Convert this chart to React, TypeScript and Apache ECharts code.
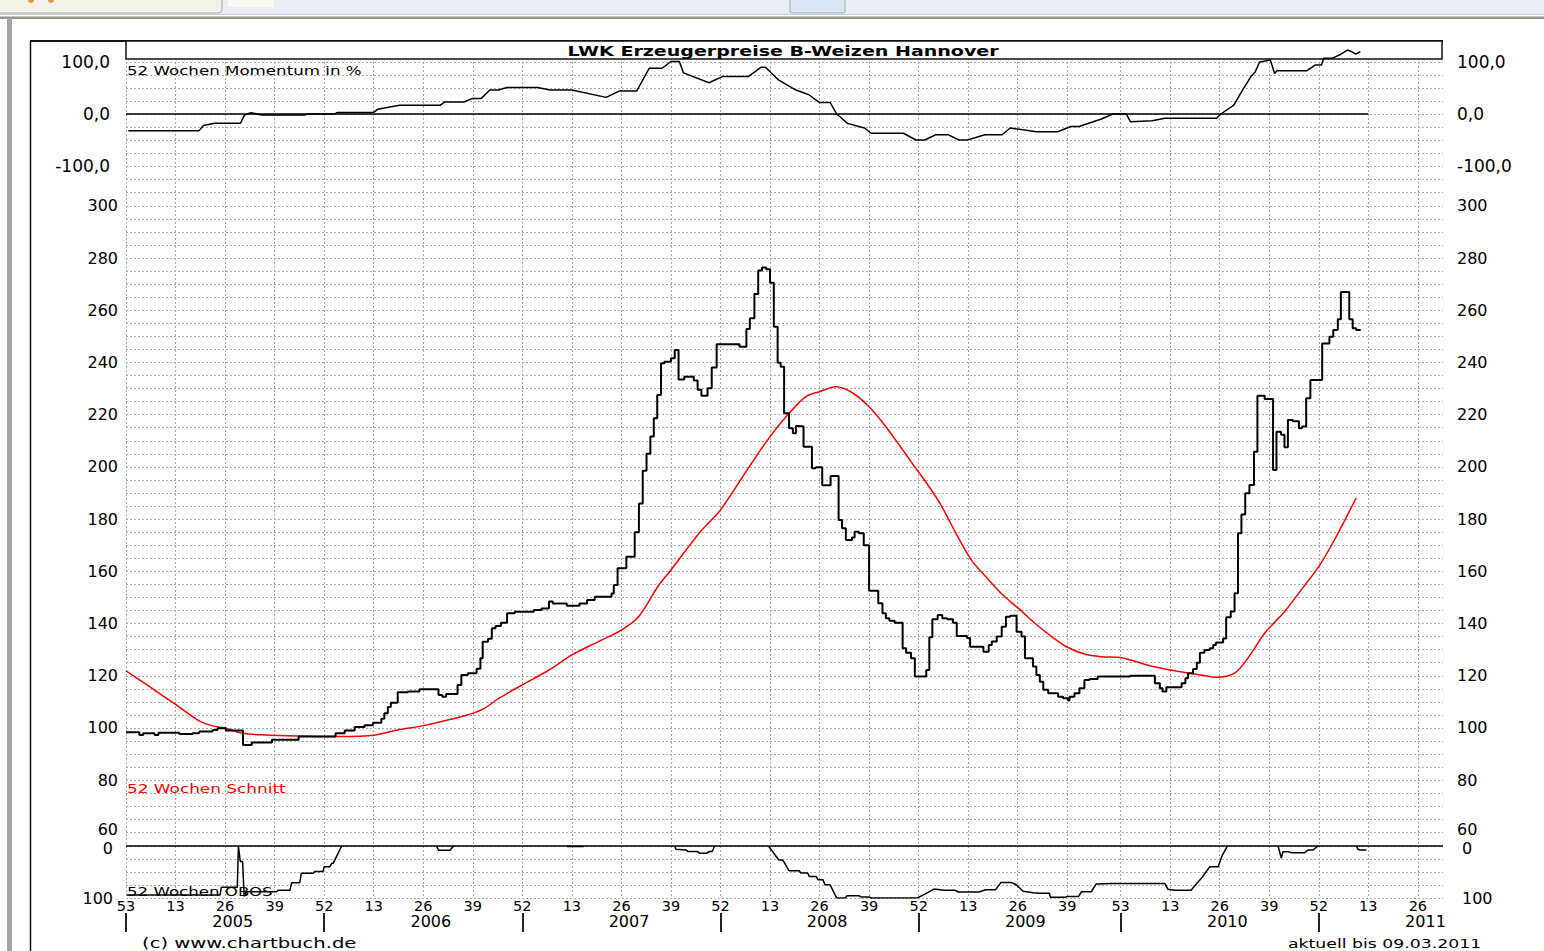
import React, { useEffect, useRef } from "react";
import * as echarts from "echarts";

// ---- axis ticks / labels ----
const X_MAX = 345.6; // weeks shown (0 = week 53 of 2004)
const weekTickValues = [0, 13, 26, 39, 52, 65, 78, 91, 104, 117, 130, 143, 156, 169, 182, 195, 208, 221, 234, 247, 261, 274, 287, 300, 313, 326, 339];
const weekTickLabels = ["53", "13", "26", "39", "52", "13", "26", "39", "52", "13", "26", "39", "52", "13", "26", "39", "52", "13", "26", "39", "53", "13", "26", "39", "52", "13", "26"];
const yearBoundaryWeeks = [0, 52, 104, 156, 208, 261, 313];
const yearLabelWeeks = [28, 80, 132, 184, 236, 289, 341];
const yearLabels = ["2005", "2006", "2007", "2008", "2009", "2010", "2011"];
const priceTickValues = [60, 80, 100, 120, 140, 160, 180, 200, 220, 240, 260, 280, 300];
const momentumTickValues = [-100, 0, 100];
const momentumTickLabels = ["-100,0", "0,0", "100,0"];
const obosTickValues = [0, 100];

// ---- data: [week, value] ----
const priceWeekly: [number, number][] = [
  [0, 98.4], [3.5, 97.3], [4.5, 98], [7.5, 97.3], [8.5, 98.2], [14, 97.7], [17.5, 98], [19.2, 98.6], [22.7, 99.2], [24, 99.9],
  [26.2, 99], [30.7, 93.5], [33, 94.4], [38.3, 95.5], [45.3, 96.7], [55, 98], [57.4, 99], [60, 100.4], [62.6, 101], [64.8, 102],
  [67, 103.5], [67.8, 105.6], [68.7, 108], [69.5, 109.7], [71.3, 113.7], [74, 114], [77, 114.8], [82, 112.6], [83, 112], [84, 113],
  [87, 116.5], [88, 120.3], [89.7, 121], [92, 122.7], [93, 126.7], [93.6, 133], [95, 134.2], [96, 138.2], [97, 139.1], [98.4, 140.3],
  [100, 143.9], [102, 144.5], [107, 145.2], [109, 145.8], [111, 148.4], [112, 147.7], [115.7, 146.8], [119, 147.7], [121, 149], [123, 150.3],
  [127.4, 151.5], [128, 154.8], [129, 161.2], [131.3, 165.6], [133.5, 175], [134.6, 186], [135.6, 198.5], [136.6, 205], [137.6, 211.6], [138.5, 218.6],
  [139.4, 227.5], [140.4, 239.7], [141.3, 240.3], [143, 241.6], [144, 244.8], [145, 233.5], [146.5, 234.5], [149, 233.1], [150, 229.5], [151, 227.2],
  [152.6, 230.1], [153.7, 238.1], [155, 247], [161, 246], [162.8, 252.8], [163.7, 256.9], [164.9, 266.2], [165.9, 275.2], [166.9, 276.4], [168, 275.7],
  [169, 270.5], [170, 253.7], [171, 239.9], [171.8, 238.4], [172.7, 220.5], [174, 214.8], [175, 212.9], [175.8, 215.7], [176.6, 215.5], [177.8, 207.7],
  [180, 199.5], [181, 199.9], [182.7, 193], [184.9, 196.5], [187, 179.7], [187.9, 176.5], [188.9, 172], [190.5, 173], [191.2, 175.2], [192.3, 174.6],
  [193.6, 170], [195, 152.6], [197.4, 147.8], [198.5, 143.9], [199.4, 142], [200.3, 141.1], [201.7, 140.3], [203.8, 130.5], [204.7, 128.8], [206, 126.7],
  [207, 119.7], [210, 122.2], [210.8, 134.7], [211.6, 141.6], [213, 143.3], [214.2, 142], [215.5, 141.6], [217, 140.3], [218, 135.2], [220.7, 134.5],
  [221.5, 131.1], [225, 129.2], [226.4, 131.8], [227.2, 133.1], [228.5, 135], [229.8, 138.8], [230.9, 142.6], [232, 143], [233.7, 136.9], [235, 135],
  [235.9, 126.7], [238, 123.5], [238.9, 120.3], [239.8, 117.7], [240.7, 114.6], [242, 113.3], [244.6, 112], [245.9, 111.4], [247.2, 110.5], [247.6, 112],
  [248.9, 113.3], [250.2, 115.2], [251.5, 118.4], [252.8, 118.8], [255, 119.7], [263.5, 120], [270, 117.1], [271.3, 115.2], [272, 114], [273, 115.6],
  [277, 117.1], [278, 119], [278.7, 121], [280, 122.6], [281, 125], [281.8, 128.8], [283, 129.9], [284.4, 130.5], [285.3, 131.8], [286, 132.7],
  [287.9, 134.3], [288.7, 142.4], [289.9, 144.6], [290.9, 151.6], [291.8, 174.6], [292.7, 181.8], [293.7, 189.9], [294.8, 193.1], [296, 205.8], [296.9, 227.2],
  [298.8, 226], [301, 198.8], [301.9, 213.5], [303.1, 212.3], [304, 207.5], [304.9, 218], [306.2, 217.5], [307.8, 214.8], [308.6, 215.5], [309.7, 226.3],
  [310.8, 233.3], [313.9, 247.3], [315.8, 249.8], [316.8, 252.4], [318, 256.5], [318.8, 267], [321, 256.5], [321.9, 253.1], [322.8, 252.4], [324, 252.4],
];

const average52: [number, number][] = [
  [0, 121.9], [6.2, 115.8], [13.2, 108.8], [19.2, 102.7], [22.7, 100.8], [26.2, 99.9], [30.5, 98], [36.6, 97.3], [45.3, 96.9], [53.9, 96.7],
  [64.3, 97.1], [71.3, 99.2], [78.2, 100.9], [85.2, 103.3], [91, 105.6], [94, 107.5], [98, 111.5], [104, 116.5], [111, 122.2], [117, 128],
  [124, 133.1], [130, 137.5], [134.5, 142.6], [139.5, 154], [143, 160.5], [150.4, 174.6], [156, 183.5], [162.7, 198.2], [169, 211.6], [174, 220.5],
  [178.4, 226.9], [182, 228.8], [186.3, 230.7], [190.6, 228.4], [195, 223], [199.4, 215.4], [202.9, 208.4], [206, 202], [210, 194], [214, 185],
  [218, 174], [222, 164], [226.4, 156.7], [229.8, 151.3], [234.2, 145.8], [238.5, 140.1], [242.9, 135], [246.8, 131.1], [251.5, 128.3], [255.9, 127.3],
  [261, 127], [263.7, 126], [269, 123.7], [274, 122.2], [278.8, 121], [283.6, 119.9], [286.1, 119.4], [290.9, 121], [294.4, 126.7], [298.8, 136.3],
  [304, 144.5], [308.4, 152.9], [313, 161.8], [317.1, 172], [322.8, 188],
];

const momentum52: [number, number][] = [
  [0.6, -32], [19.2, -32], [20.3, -22], [23.2, -18], [30, -18], [31.1, -2], [32.8, 2.5], [35.6, -2], [46.9, -2], [47.5, 0],
  [54.8, 0], [55.5, 3], [65, 3], [66, 9], [71.8, 17], [82.5, 17], [83.6, 23], [88.7, 23], [91, 30], [93.2, 30],
  [95.5, 46], [97.7, 46], [100, 51], [108, 51], [111.3, 46], [117, 46], [126, 32], [129.4, 44], [134, 44], [137.3, 88],
  [140.7, 88], [143, 101], [145.2, 101], [146.3, 79], [153, 60], [156.5, 72], [163.3, 72], [166.7, 90], [167.8, 90], [171.3, 65],
  [175.8, 46], [179.2, 37], [182, 22], [184.8, 22], [186.5, 0], [189.3, -18], [193.8, -27], [195.5, -37], [204, -37], [207.3, -50],
  [209.6, -50], [212.4, -40], [215.8, -40], [218.6, -50], [220.8, -50], [225.4, -40], [229.9, -40], [232, -27], [238.9, -34], [244.5, -34],
  [247.9, -24], [250.1, -24], [255.8, -10], [259, 0], [262.5, 0], [263.6, -15], [269.3, -13], [272.6, -8], [286.2, -8], [287.3, 0],
  [290.7, 17], [293, 46], [295.2, 72], [296.3, 81], [297.5, 100], [300.3, 104], [301.4, 78], [302, 83], [309.8, 83], [312, 94],
  [313.7, 94], [314.3, 107], [316.5, 107], [318.8, 115], [320.5, 123], [321.6, 120], [322.7, 115], [323.9, 120],
];

// OBOS drawn on an inverted 0..100 axis; segments outside the panel are separate pieces
const obosSegments: [number, number][][] = [
  [[0.2, 94], [24.7, 94], [25, 79.5], [29.2, 79.5], [29.5, 1], [30, 30], [30.6, 30], [31, 97], [31.6, 88], [39.5, 88],
    [40, 85], [43, 85], [43.5, 70.5], [45.6, 70.5], [46, 52.6], [49.1, 52.6], [49.5, 49], [51.7, 49], [52, 39.7], [53.5, 39.7],
    [54, 33], [54.4, 33], [56.6, 0]],
  [[81.5, 0], [82, 8], [85, 8], [86, 0]],
  [[115.7, 1], [120.1, 1]],
  [[144, 0], [144.3, 6.4], [147, 7.6], [147.5, 10.8], [150, 10.8], [150.5, 14], [152.4, 14], [153, 10.8], [153.8, 10.8], [154.5, 0]],
  [[168.6, 0], [170, 14], [171.3, 26.8], [172.2, 26.8], [172.6, 30], [174, 47.8], [176.7, 47.8], [177.1, 52], [178.9, 52], [179.3, 58.6],
    [181.1, 58.6], [181.6, 65], [182.9, 65], [183.4, 74.5], [184.7, 74.5], [185.2, 81], [186.5, 100], [188.8, 100], [189.2, 95.5], [192.4, 95.5],
    [192.8, 98], [195, 98], [195.5, 100], [207.6, 100], [209.4, 93.6], [212, 82.8], [214.8, 85], [217.5, 85], [218.4, 88.5], [223.8, 88.5],
    [225.6, 84], [228.2, 84], [229.6, 70], [232.3, 70], [233.6, 74.5], [235.4, 87], [238.1, 90], [239.6, 91], [242.3, 91], [242.6, 98.7],
    [246.5, 98.7], [247, 97], [250, 97], [250.7, 88], [253.3, 88], [254.6, 73], [258.6, 72], [272.6, 72], [273.4, 83], [275.2, 85],
    [279.5, 85], [280.4, 77], [282.2, 62], [284.4, 40], [286.6, 40], [287.5, 21], [289, 0]],
  [[302.3, 0], [303.2, 23.7], [303.6, 11], [305, 11], [305.8, 12.8], [309.3, 12.8], [310.2, 7.7], [311.5, 7.7], [312.8, 0]],
  [[322.9, 0], [323.3, 6.4], [323.8, 7.7], [325.5, 7.7]],
];

const FONT = "DejaVu Sans";
const GRID_COLOR = "#a9a9a9";

function buildOption() {
  const obosData: any[] = [];
  obosSegments.forEach((seg, i) => {
    if (i > 0) obosData.push([seg[0][0], "-"]);
    seg.forEach((p) => obosData.push(p));
  });

  const dotted = { color: GRID_COLOR, type: [2, 2] as any, width: 1 };
  const hiddenX = (gridIndex: number) => ({
    gridIndex, type: "value", min: 0, max: X_MAX, show: false,
  });
  const hiddenY = (gridIndex: number) => ({
    gridIndex, type: "value", min: 0, max: 1, show: false,
  });

  const labelStyle = { color: "#000", fontFamily: FONT, fontSize: 17 };
  const small = { color: "#000", fontFamily: FONT, fontSize: 16 };
  // the lowest price label and the top OBOS label sit very close; nudge them apart a little
  const priceLabel = {
    ...small,
    formatter: (v: number) => (v === priceTickValues[0] ? `{up|${v}}` : `${v}`),
    rich: { up: { ...small, padding: [0, 0, 5, 0] } },
  };
  const obosLabel = {
    ...small,
    formatter: (v: number) => (v === obosTickValues[0] ? `{dn|${v}}` : `${v}`),
    rich: { dn: { ...small, padding: [5, 0, 0, 0] } },
  };

  const texts = (
    x: number, y: number, text: string, size: number, scaleX: number,
    align: string, color = "#000", weight = "normal"
  ) => ({
    type: "text", x, y, scaleX, z: 20,
    style: {
      text, x: 0, y: 0, fill: color,
      font: `${weight} ${size}px "${FONT}"`,
      textAlign: align, textVerticalAlign: "middle",
    },
  });

  const gridBase = { left: 126, width: 1317, outerBoundsMode: "none" };

  return {
    animation: false,
    backgroundColor: "#ffffff",
    textStyle: { fontFamily: FONT },
    grid: [
      { ...gridBase, top: 58, height: 840 },      // 0: vertical grid lines
      { ...gridBase, top: 41.2, height: 150.8 },  // 1: momentum
      { ...gridBase, top: 205.8, height: 626.6 }, // 2: price
      { ...gridBase, top: 846, height: 52 },      // 3: OBOS
      { ...gridBase, top: 912, height: 1 },       // 4: year boundary ticks
      { ...gridBase, top: 913.5, height: 1 },     // 5: year labels
    ],
    xAxis: [
      {
        gridIndex: 0, type: "value", min: 0, max: X_MAX,
        axisLine: { show: false },
        axisTick: { show: false, customValues: weekTickValues },
        axisLabel: { show: false },
        splitLine: { show: true, lineStyle: dotted },
      },
      hiddenX(1),
      hiddenX(2),
      {
        gridIndex: 3, type: "value", min: 0, max: X_MAX, position: "bottom",
        axisLine: { show: false },
        axisTick: { show: false },
        splitLine: { show: false },
        axisLabel: {
          customValues: weekTickValues, margin: 1, lineHeight: 14,
          color: "#000", fontFamily: FONT, fontSize: 14.5,
          formatter: (v: number) => weekTickLabels[weekTickValues.indexOf(v)] ?? "",
        },
      },
      {
        gridIndex: 4, type: "value", min: 0, max: X_MAX, position: "bottom",
        axisLine: { show: false },
        axisTick: { show: true, customValues: yearBoundaryWeeks, length: 19, lineStyle: { color: "#222", width: 2 } },
        axisLabel: { show: false },
        splitLine: { show: false },
      },
      {
        gridIndex: 5, type: "value", min: 0, max: X_MAX, position: "bottom",
        axisLine: { show: false },
        axisTick: { show: false },
        splitLine: { show: false },
        axisLabel: {
          customValues: yearLabelWeeks, margin: 0, lineHeight: 14,
          color: "#000", fontFamily: FONT, fontSize: 16,
          formatter: (v: number) => yearLabels[yearLabelWeeks.indexOf(v)] ?? "",
        },
      },
    ],
    yAxis: [
      hiddenY(0),
      {
        gridIndex: 1, type: "value", min: -150, max: 140, interval: 25, position: "left",
        axisLine: { show: false }, axisTick: { show: false },
        splitLine: { show: true, lineStyle: dotted },
        axisLabel: {
          ...labelStyle, margin: 16, customValues: momentumTickValues,
          formatter: (v: number) => momentumTickLabels[momentumTickValues.indexOf(v)] ?? "",
        },
      },
      {
        gridIndex: 1, type: "value", min: -150, max: 140, interval: 25, position: "right",
        axisLine: { show: false }, axisTick: { show: false }, splitLine: { show: false },
        axisLabel: {
          ...labelStyle, margin: 14, customValues: momentumTickValues,
          formatter: (v: number) => momentumTickLabels[momentumTickValues.indexOf(v)] ?? "",
        },
      },
      {
        gridIndex: 2, type: "value", min: 60, max: 300, interval: 5, position: "left",
        axisLine: { show: false }, axisTick: { show: false },
        splitLine: { show: true, lineStyle: dotted },
        axisLabel: { ...priceLabel, margin: 8, customValues: priceTickValues },
      },
      {
        gridIndex: 2, type: "value", min: 60, max: 300, interval: 5, position: "right",
        axisLine: { show: false }, axisTick: { show: false }, splitLine: { show: false },
        axisLabel: { ...priceLabel, margin: 14, customValues: priceTickValues },
      },
      {
        gridIndex: 3, type: "value", min: 0, max: 100, interval: 25, inverse: true, position: "left",
        axisLine: { show: false }, axisTick: { show: false },
        splitLine: { show: true, lineStyle: dotted },
        axisLabel: { ...obosLabel, margin: 13, customValues: obosTickValues },
      },
      {
        gridIndex: 3, type: "value", min: 0, max: 100, interval: 25, inverse: true, position: "right",
        axisLine: { show: false }, axisTick: { show: false }, splitLine: { show: false },
        axisLabel: { ...obosLabel, margin: 19, customValues: obosTickValues },
      },
      hiddenY(4),
      hiddenY(5),
    ],
    series: [
      {
        name: "52 Wochen Momentum in %", type: "line", xAxisIndex: 1, yAxisIndex: 1,
        data: momentum52, showSymbol: false, symbol: "none", clip: true, z: 5,
        lineStyle: { color: "#000", width: 1.5 },
        markLine: {
          silent: true, symbol: ["none", "none"], label: { show: false },
          lineStyle: { color: "#000", type: "solid", width: 1.5 },
          data: [[{ coord: [0, 0] }, { coord: [326, 0] }]],
        },
      },
      {
        name: "52 Wochen Schnitt", type: "line", xAxisIndex: 2, yAxisIndex: 3,
        data: average52, showSymbol: false, symbol: "none", smooth: 0.3, z: 4,
        lineStyle: { color: "#ff0000", width: 1.5 },
      },
      {
        name: "LWK Erzeugerpreise B-Weizen Hannover", type: "line", xAxisIndex: 2, yAxisIndex: 3,
        data: priceWeekly, step: "end", showSymbol: false, symbol: "none", z: 5,
        lineStyle: { color: "#000", width: 2 },
      },
      {
        name: "52 Wochen OBOS", type: "line", xAxisIndex: 3, yAxisIndex: 5,
        data: obosData, showSymbol: false, symbol: "none", connectNulls: false, clip: true, z: 5,
        lineStyle: { color: "#000", width: 1.5 },
        markLine: {
          silent: true, symbol: ["none", "none"], label: { show: false },
          lineStyle: { color: "#000", type: "solid", width: 1.5 },
          data: [[{ coord: [0, 0] }, { coord: [X_MAX, 0] }]],
        },
      },
    ],
    graphic: {
      elements: [
        // window chrome
        { type: "rect", z: 1, shape: { x: 0, y: 0, width: 1544, height: 15 }, style: { fill: "#e9eef5" } },
        { type: "rect", z: 1, shape: { x: -3, y: -4, width: 225, height: 17, r: 3 }, style: { fill: "#f2f1ea", stroke: "#a9a79b", lineWidth: 1 } },
        { type: "circle", z: 2, shape: { cx: 31, cy: 0, r: 3 }, style: { fill: "#d89a3a" } },
        { type: "circle", z: 2, shape: { cx: 51, cy: 0, r: 3 }, style: { fill: "#d89a3a" } },
        { type: "rect", z: 1, shape: { x: 228, y: 0, width: 46, height: 7 }, style: { fill: "#fbfaf0" } },
        { type: "rect", z: 1, shape: { x: 790, y: -4, width: 55, height: 17, r: 2 }, style: { fill: "#dce5f2", stroke: "#9fabbf", lineWidth: 1 } },
        { type: "line", z: 1, shape: { x1: 0, y1: 14.5, x2: 1544, y2: 14.5 }, style: { stroke: "#c9d1dd", lineWidth: 1 } },
        { type: "rect", z: 1, shape: { x: 0, y: 16.5, width: 1544, height: 2.5 }, style: { fill: "#93938b" } },
        { type: "rect", z: 1, shape: { x: 7, y: 18, width: 5, height: 933 }, style: { fill: "#a5a49b" } },
        // chart frame
        { type: "line", z: 1, shape: { x1: 30, y1: 41, x2: 1443, y2: 41 }, style: { stroke: "#111", lineWidth: 2 } },
        { type: "line", z: 1, shape: { x1: 30.5, y1: 41, x2: 30.5, y2: 951 }, style: { stroke: "#111", lineWidth: 1.5 } },
        // title box
        { type: "rect", z: 1, shape: { x: 126, y: 41, width: 1316, height: 18 }, style: { fill: "#ffffff", stroke: "#111", lineWidth: 1.5 } },
        texts(783, 50.5, "LWK Erzeugerpreise B-Weizen Hannover", 14, 1.36, "center", "#000", "bold"),
        texts(127, 70.5, "52 Wochen Momentum in %", 12, 1.39, "left"),
        texts(127, 788.5, "52 Wochen Schnitt", 13, 1.3, "left", "#ff0000"),
        texts(127, 891.5, "52 Wochen OBOS", 13, 1.28, "left"),
        texts(142, 943.5, "(c) www.chartbuch.de", 14, 1.4, "left"),
        texts(1288, 943.5, "aktuell bis 09.03.2011", 13, 1.33, "left"),
      ],
    },
  };
}

export default function App() {
  const ref = useRef<HTMLDivElement>(null);
  useEffect(() => {
    if (!ref.current) return;
    const chart = echarts.init(ref.current, undefined, { renderer: "svg" });
    chart.setOption(buildOption() as any);
    return () => chart.dispose();
  }, []);
  return (
    <div
      ref={ref}
      style={{ position: "fixed", left: 0, top: 0, width: 1544, height: 951, background: "#fff" }}
    />
  );
}
